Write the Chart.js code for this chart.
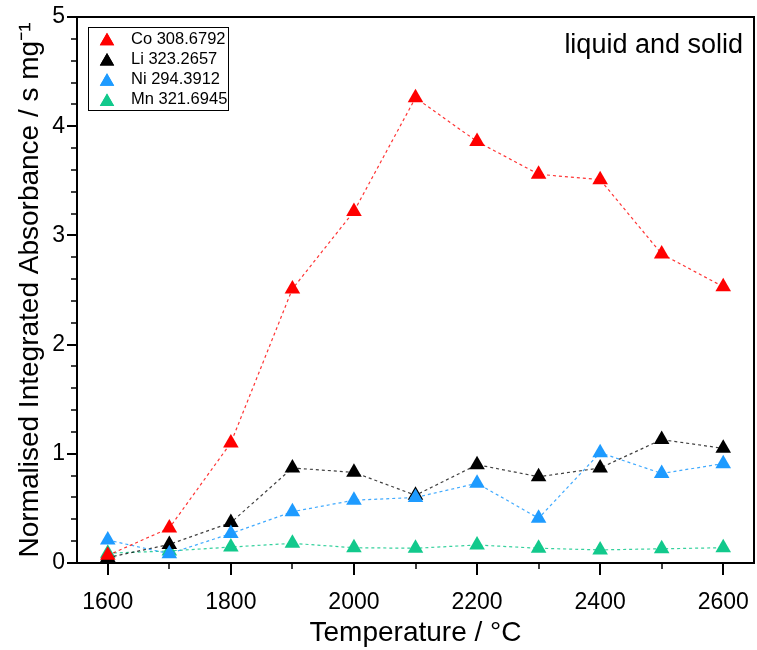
<!DOCTYPE html>
<html>
<head>
<meta charset="utf-8">
<script src="https://cdn.jsdelivr.net/npm/chart.js@4.4.0/dist/chart.umd.min.js"></script>
<style>
  html, body { margin: 0; padding: 0; background: #fff; }
</style>
</head>
<body>
<canvas id="myChart" width="757" height="650"></canvas>
<script>
// data
const temperatures = [1600, 1700, 1800, 1900, 2000, 2100, 2200, 2300, 2400, 2500, 2600];
const coValues = [0.07, 0.32, 1.10, 2.51, 3.22, 4.26, 3.86, 3.56, 3.51, 2.83, 2.53];
const liValues = [0.05, 0.17, 0.37, 0.87, 0.83, 0.62, 0.90, 0.79, 0.87, 1.13, 1.05];
const niValues = [0.21, 0.085, 0.27, 0.47, 0.575, 0.60, 0.73, 0.41, 1.01, 0.82, 0.91];
const mnValues = [0.09, 0.11, 0.146, 0.18, 0.14, 0.135, 0.165, 0.135, 0.12, 0.13, 0.14];
const seriesLabels = ["Co 308.6792", "Li 323.2657", "Ni 294.3912", "Mn 321.6945"];
const xTickLabels = [1600, 1800, 2000, 2200, 2400, 2600];
const yTickLabels = [0, 1, 2, 3, 4, 5];

const FONT = "'Liberation Sans', Arial, sans-serif";
const colors = ["#ff0000", "#000000", "#1e9bff", "#12c98c"];
const lineColors = ["rgba(255,0,0,0.8)", "rgba(0,0,0,0.75)", "rgba(30,155,255,0.85)", "rgba(18,201,140,0.85)"];
const drawOrder = [0, 2, 1, 3]; // Co on top, then Ni, Li, Mn

const allValues = [coValues, liValues, niValues, mnValues];

const datasets = allValues.map((vals, i) => ({
  label: seriesLabels[i],
  data: vals.map((v, k) => ({ x: temperatures[k], y: v })),
  borderColor: lineColors[i],
  backgroundColor: colors[i],
  borderWidth: 1.2,
  borderDash: [3, 3],
  pointStyle: "triangle",
  pointRadius: 9,
  pointBorderWidth: 0,
  pointBackgroundColor: colors[i],
  pointBorderColor: colors[i],
  order: drawOrder[i],
  tension: 0,
}));

// frame, minor/major ticks, in-plot legend and note
const decorPlugin = {
  id: "decor",
  afterDraw(chart) {
    const { ctx, chartArea: a, scales } = chart;
    const xs = scales.x, ys = scales.y;
    ctx.save();
    ctx.strokeStyle = "#000";
    ctx.lineWidth = 2;
    ctx.strokeRect(a.left, a.top, a.right - a.left, a.bottom - a.top);

    // y ticks
    for (let v = 0; v <= 5.001; v += 0.2) {
      const y = Math.round(ys.getPixelForValue(v));
      const major = Math.abs(v - Math.round(v)) < 0.001;
      ctx.lineWidth = major ? 2 : 1.5;
      ctx.beginPath();
      ctx.moveTo(a.left, y);
      ctx.lineTo(a.left - (major ? 10 : 6), y);
      ctx.stroke();
    }
    // x ticks
    for (let t = 1600; t <= 2600; t += 100) {
      const x = Math.round(xs.getPixelForValue(t));
      const major = t % 200 === 0;
      ctx.lineWidth = major ? 2 : 1.5;
      ctx.beginPath();
      ctx.moveTo(x, a.bottom);
      ctx.lineTo(x, a.bottom + (major ? 12 : 6));
      ctx.stroke();
    }

    // legend box
    const lx = a.left + 11, ly = a.top + 10;
    ctx.lineWidth = 1;
    ctx.strokeRect(lx + 0.5, ly + 0.5, 140, 83);
    ctx.font = "16.5px " + FONT;
    ctx.textBaseline = "middle";
    ctx.textAlign = "left";
    seriesLabels.forEach((lab, i) => {
      const cy = ly + 12 + i * 20.3;
      ctx.fillStyle = colors[i];
      Chart.helpers.drawPoint(ctx, { pointStyle: "triangle", radius: 8.3, borderWidth: 0 }, lx + 19, cy + 2);
      ctx.fill();
      ctx.fillStyle = "#000";
      ctx.fillText(lab, lx + 43, cy);
    });

    // note
    ctx.font = "27px " + FONT;
    ctx.textAlign = "right";
    ctx.textBaseline = "alphabetic";
    ctx.fillStyle = "#000";
    ctx.fillText("liquid and solid", a.right - 11, a.top + 36);
    ctx.restore();
  },
};

const myChart = document.querySelector("#myChart");
const chart = new Chart(myChart, {
  type: "line",
  data: { datasets },
  plugins: [decorPlugin],
  options: {
    responsive: false,
    animation: false,
    devicePixelRatio: 1,
    layout: { autoPadding: false, padding: { top: 17, right: 3, left: 0, bottom: 0 } },
    plugins: {
      legend: { display: false },
      tooltip: { enabled: false },
    },
    scales: {
      x: {
        type: "linear",
        min: 1550,
        max: 2650,
        afterBuildTicks(s) {
          s.ticks = xTickLabels.map((v) => ({ value: v }));
        },
        afterFit(s) {
          s.height = 87;
          s.paddingLeft = 0;
          s.paddingRight = 0;
        },
        grid: { display: false, drawTicks: false },
        border: { display: false },
        ticks: {
          autoSkip: false,
          maxRotation: 0,
          color: "#000",
          padding: 26,
          font: { family: FONT, size: 23 },
          callback: (v) => String(v),
        },
        title: {
          display: true,
          text: "Temperature / °C",
          color: "#000",
          font: { family: FONT, size: 28 },
          padding: { top: 0, bottom: 0 },
        },
      },
      y: {
        min: 0,
        max: 5,
        afterBuildTicks(s) {
          s.ticks = yTickLabels.map((v) => ({ value: v }));
        },
        afterFit(s) {
          s.width = 77;
          s.paddingTop = 0;
          s.paddingBottom = 0;
        },
        grid: { display: false, drawTicks: false },
        border: { display: false },
        ticks: {
          color: "#000",
          padding: 12,
          font: { family: FONT, size: 23 },
        },
        title: {
          display: true,
          text: "Normalised Integrated Absorbance / s mg⁻¹",
          color: "#000",
          font: { family: FONT, size: 28 },
          padding: { top: 13, bottom: 0 },
        },
      },
    },
  },
});
</script>
</body>
</html>
